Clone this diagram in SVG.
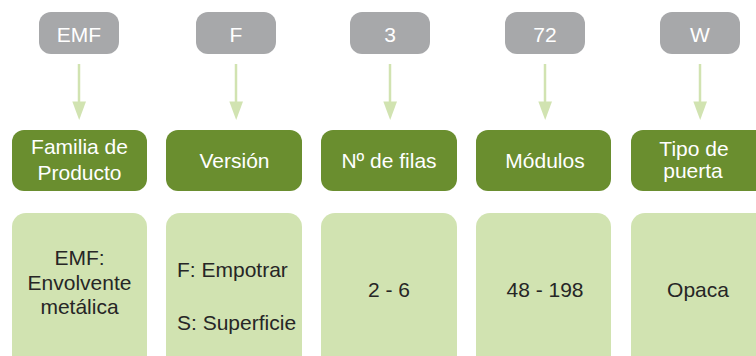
<svg xmlns="http://www.w3.org/2000/svg" width="756" height="356" viewBox="0 0 756 356">
<defs>
<style>
.code{fill:#a7a8aa}
.cat{fill:#6a8e2f}
.val{fill:#d1e3b1}
.tw{font-family:"Liberation Sans",Arial,sans-serif;font-size:21px;fill:#ffffff;text-anchor:middle}
.td{font-family:"Liberation Sans",Arial,sans-serif;font-size:21px;fill:#262626;text-anchor:middle}
.conn line{stroke:#d1e3b1;stroke-width:2.5}
.conn polygon{fill:#d1e3b1}
</style>
</defs>
<rect width="756" height="356" fill="#ffffff"/>
<g id="code-emf"><rect class="code" x="39" y="12" width="80" height="42" rx="12"/><text class="tw" x="79" y="42">EMF</text></g>
<g id="code-f"><rect class="code" x="196" y="12" width="80" height="42" rx="12"/><text class="tw" x="236" y="42">F</text></g>
<g id="code-3"><rect class="code" x="350" y="12" width="80" height="42" rx="12"/><text class="tw" x="390" y="42">3</text></g>
<g id="code-72"><rect class="code" x="505" y="12" width="80" height="42" rx="12"/><text class="tw" x="545" y="42">72</text></g>
<g id="code-w"><rect class="code" x="660" y="12" width="80" height="42" rx="12"/><text class="tw" x="700" y="42">W</text></g>

<g class="conn" id="connectors">
<line x1="79" y1="64" x2="79" y2="103"/><polygon points="72.3,101.5 86,101.5 79.2,120"/>
<line x1="236" y1="64" x2="236" y2="103"/><polygon points="229.3,101.5 243,101.5 236.2,120"/>
<line x1="390" y1="64" x2="390" y2="103"/><polygon points="383.3,101.5 397,101.5 390.2,120"/>
<line x1="545" y1="64" x2="545" y2="103"/><polygon points="538.3,101.5 552,101.5 545.2,120"/>
<line x1="700" y1="64" x2="700" y2="103"/><polygon points="693.3,101.5 707,101.5 700.2,120"/>
</g>

<g id="cat-familia"><rect class="cat" x="12" y="130" width="135" height="61" rx="12"/><text class="tw" x="79.5" y="154">Familia de</text><text class="tw" x="79.5" y="180">Producto</text></g>
<g id="cat-version"><rect class="cat" x="166" y="130" width="136" height="61" rx="12"/><text class="tw" x="234.5" y="168">Versión</text></g>
<g id="cat-filas"><rect class="cat" x="321" y="130" width="136" height="61" rx="12"/><text class="tw" x="389" y="168">Nº de filas</text></g>
<g id="cat-modulos"><rect class="cat" x="476" y="130" width="135" height="61" rx="12"/><text class="tw" x="545" y="168">Módulos</text></g>
<g id="cat-puerta"><rect class="cat" x="631" y="130" width="140" height="61" rx="12"/><text class="tw" x="694" y="155.5">Tipo de</text><text class="tw" x="693" y="177.5">puerta</text></g>

<g id="val-familia"><rect class="val" x="12" y="213" width="135" height="160" rx="14"/><text class="td" x="79.5" y="265">EMF:</text><text class="td" x="79.5" y="290">Envolvente</text><text class="td" x="79.5" y="314">metálica</text></g>
<g id="val-version"><rect class="val" x="166" y="213" width="136" height="160" rx="14"/><text class="td" x="177" y="277" style="text-anchor:start">F: Empotrar</text><text class="td" x="177" y="330" style="text-anchor:start">S: Superficie</text></g>
<g id="val-filas"><rect class="val" x="321" y="213" width="136" height="160" rx="14"/><text class="td" x="389" y="297">2 - 6</text></g>
<g id="val-modulos"><rect class="val" x="476" y="213" width="135" height="160" rx="14"/><text class="td" x="545" y="297">48 - 198</text></g>
<g id="val-puerta"><rect class="val" x="631" y="213" width="140" height="160" rx="14"/><text class="td" x="698" y="297">Opaca</text></g>
</svg>
